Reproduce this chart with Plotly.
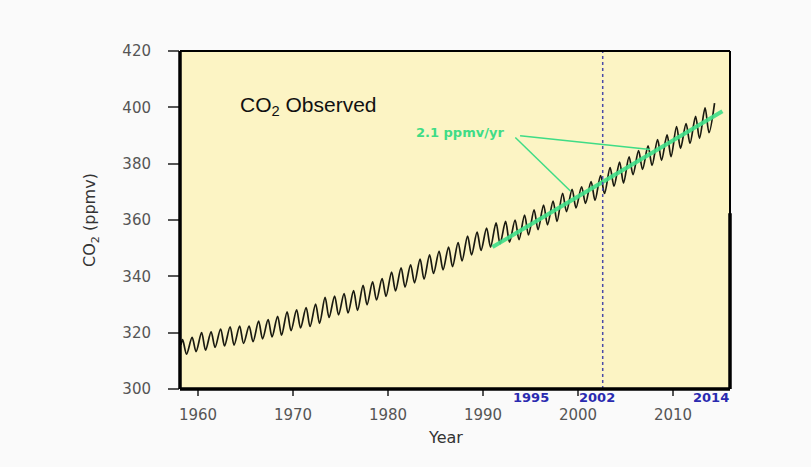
import plotly.graph_objects as go

# Seasonal maxima (May) and minima (Oct), ppmv
years = list(range(1958, 2015))
may_peak = [317.5, 318.3, 320.0, 320.3, 321.3, 322.1, 322.3, 322.3, 324.1, 324.6,
            325.8, 327.4, 328.1, 328.9, 330.1, 332.5, 333.0, 333.9, 334.9, 336.8,
            338.0, 339.2, 341.5, 343.0, 344.1, 346.1, 347.6, 348.9, 350.4, 352.0,
            354.3, 355.7, 357.1, 359.0, 359.5, 360.0, 361.7, 363.6, 365.3, 366.7,
            369.5, 370.9, 371.8, 373.6, 375.8, 378.6, 380.6, 382.4, 384.6, 386.3,
            388.5, 390.2, 393.2, 394.2, 396.8, 399.8, 401.5]
oct_trough = [312.4, 313.3, 313.8, 314.8, 315.3, 315.6, 316.2, 316.8, 317.8, 318.5,
              319.1, 320.7, 321.7, 322.2, 323.3, 325.4, 326.3, 327.0, 327.9, 329.9,
              331.6, 332.9, 334.8, 336.2, 337.7, 339.0, 341.0, 342.3, 343.4, 345.5,
              347.6, 349.2, 350.4, 351.6, 352.1, 353.0, 354.7, 356.6, 358.3, 359.5,
              363.0, 364.3, 365.9, 367.0, 369.4, 372.0, 373.1, 376.1, 378.0, 379.4,
              381.2, 382.5, 385.4, 387.2, 389.0, 391.0, 395.5]
peak_month = 5
trough_month = 10
start_point = (1958.2, 315.7)
end_year = 2014.45

trend_x = [1991.0, 2015.2]
trend_y = [350.4, 398.6]

marked_years = [1995, 2002, 2014]
line_year = 2002.6

x_vals = [start_point[0]]
y_vals = [start_point[1]]
for yr, pk, tr in zip(years, may_peak, oct_trough):
    xp = yr + (peak_month - 0.5) / 12
    xt = yr + (trough_month - 0.5) / 12
    if xp > x_vals[-1] and xp <= end_year:
        x_vals.append(xp); y_vals.append(pk)
    if xt > x_vals[-1] and xt <= end_year:
        x_vals.append(xt); y_vals.append(tr)

fig = go.Figure()
fig.add_trace(go.Scatter(x=x_vals, y=y_vals, mode="lines",
                         line=dict(color="#1a1a10", width=1.7, shape="spline", smoothing=0.9),
                         hoverinfo="skip", showlegend=False))
fig.add_trace(go.Scatter(x=trend_x, y=trend_y, mode="lines",
                         line=dict(color="#3fe08a", width=4),
                         opacity=0.9, showlegend=False, hoverinfo="skip"))

green = "#3fdc86"
fig.add_shape(type="line", xref="x", yref="y", x0=1993.4, y0=389.3, x1=1999.2, y1=370.3,
              line=dict(color=green, width=1.5))
fig.add_shape(type="line", xref="x", yref="y", x0=1993.9, y0=389.9, x1=2007.6, y1=385.0,
              line=dict(color=green, width=1.5))
fig.add_annotation(x=1987.6, y=391.0, xref="x", yref="y", text="<b>2.1 ppmv/yr</b>",
                   showarrow=False, font=dict(family="DejaVu Sans", size=13, color=green))

fig.add_shape(type="line", xref="x", yref="y", x0=line_year, x1=line_year, y0=300, y1=420,
              line=dict(color="#4a4aa8", width=1.5, dash="dot"))

fig.add_annotation(x=1964.2, y=400.3, xref="x", yref="y", xanchor="left",
                   text="CO<sub>2</sub> Observed", showarrow=False,
                   font=dict(family="Arial", size=21, color="#111"))

for yr in marked_years:
    fig.add_annotation(x=yr, y=-0.025, xref="x", yref="paper", text=f"<b>{yr}</b>",
                       showarrow=False, yanchor="middle",
                       font=dict(family="DejaVu Sans", size=13, color="#2a2ab0"))

fig.add_annotation(x=1986.1, y=-0.143, xref="x", yref="paper", text="Year",
                   showarrow=False, yanchor="middle",
                   font=dict(family="DejaVu Sans", size=16, color="#333"))

# frame
fig.add_shape(type="line", xref="paper", yref="paper", x0=0, x1=0, y0=0, y1=1,
              line=dict(color="black", width=3.5))
fig.add_shape(type="line", xref="paper", yref="paper", x0=0, x1=1, y0=0, y1=0,
              line=dict(color="black", width=3.5))
fig.add_shape(type="line", xref="paper", yref="paper", x0=0, x1=1, y0=1, y1=1,
              line=dict(color="black", width=2))
fig.add_shape(type="line", xref="paper", yref="paper", x0=1, x1=1, y0=0, y1=1,
              line=dict(color="black", width=2))
fig.add_shape(type="line", xref="paper", yref="paper", x0=1, x1=1, y0=0, y1=0.52,
              line=dict(color="black", width=3.5))

fig.update_layout(
    width=811, height=467,
    margin=dict(l=180, r=81, t=51, b=78),
    paper_bgcolor="#fafafa", plot_bgcolor="#fcf4c4",
    font=dict(family="DejaVu Sans", color="#555"),
    xaxis=dict(range=[1958.1, 2016.0], tickvals=[1960, 1970, 1980, 1990, 2000, 2010],
               ticks="outside", ticklen=6, tickcolor="#555", tickwidth=1.5,
               showgrid=False, zeroline=False, showline=False,
               tickfont=dict(family="DejaVu Sans", size=15, color="#555"), ticklabelstandoff=6),
    yaxis=dict(range=[300, 420], tickvals=[300, 320, 340, 360, 380, 400, 420],
               ticks="outside", ticklen=11, tickcolor="#555", tickwidth=1.5,
               showgrid=False, zeroline=False, showline=False,
               tickfont=dict(family="DejaVu Sans", size=15, color="#555"), ticklabelstandoff=14,
               title=dict(text="CO<sub>2</sub> (ppmv)",
                          font=dict(family="DejaVu Sans", size=16, color="#333"), standoff=22)),
)

fig.write_html("out.html")
